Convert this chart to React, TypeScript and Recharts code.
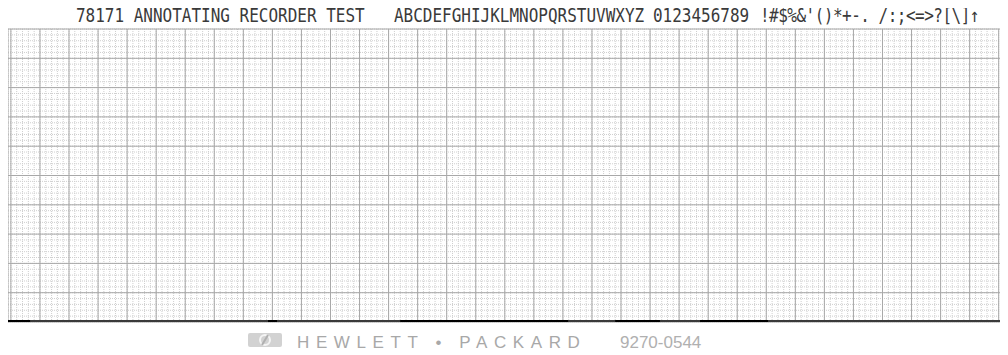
import React from 'react';
import { LineChart, Line, XAxis, YAxis, CartesianGrid } from 'recharts';

// header printed by the recorder, split where the print head left gaps
const headerText = [
  '78171 ANNOTATING RECORDER TEST',
  'ABCDEFGHIJKLMNOPQRSTUVWXYZ',
  '0123456789',
  "!#$%&'()*+-. /:;<=>?[\\]\u2191",
];
const headerX = [68, 386, 645, 752];

const footerBrand = 'HEWLETT \u2022 PACKARD';
const footerPart = '9270-0544';

// pen trace along the zero line (x in major divisions)
const baseTrace = [
  { x: -0.1, y: 0 },
  { x: 34.32, y: 0 },
];
const darkTrace = [
  { x: -0.1, y: 0 },
  { x: 0.66, y: 0 },
  { x: 0.7, y: null },
  { x: 8.85, y: 0 },
  { x: 9.16, y: 0 },
  { x: 9.2, y: null },
  { x: 13.4, y: 0 },
  { x: 19.18, y: 0 },
  { x: 19.2, y: null },
  { x: 20.8, y: 0 },
  { x: 22.34, y: 0 },
  { x: 22.4, y: null },
  { x: 23.72, y: 0 },
  { x: 26.06, y: 0 },
];

const xDomain = [-0.1, 34.32];
const yDomain = [0, 10];

const majorX: number[] = [];
const minorX: number[] = [];
for (let i = 0; i <= 34; i++) majorX.push(i);
for (let i = 0; i <= 171; i++) minorX.push(i / 5);
const majorY: number[] = [];
const minorY: number[] = [];
for (let i = 0; i <= 10; i++) majorY.push(i);
for (let i = 0; i <= 50; i++) minorY.push(i / 5);

const App = () => {
  return (
    <div style={{ position: 'relative', width: 1000, height: 347 }}>
      <LineChart
        width={1000}
        height={347}
        margin={{ top: 21, right: 0, bottom: 33, left: 0 }}
      >
        <XAxis xAxisId="minor" type="number" dataKey="x" domain={xDomain} ticks={minorX} interval={0} allowDataOverflow hide />
        <XAxis xAxisId="major" type="number" dataKey="x" domain={xDomain} ticks={majorX} interval={0} allowDataOverflow hide />
        <YAxis yAxisId="minor" type="number" domain={yDomain} ticks={minorY} interval={0} allowDataOverflow hide />
        <YAxis yAxisId="major" type="number" domain={yDomain} ticks={majorY} interval={0} allowDataOverflow hide />
        <CartesianGrid xAxisId="minor" yAxisId="minor" stroke="#cfcfcf" strokeDasharray="1 1" />
        <CartesianGrid xAxisId="major" yAxisId="major" stroke="#a8a8a8" />
        <Line
          xAxisId="major"
          yAxisId="major"
          data={baseTrace}
          dataKey="y"
          type="linear"
          stroke="#3a3a3a"
          strokeWidth={4}
          dot={false}
          isAnimationActive={false}
        />
        <Line
          xAxisId="major"
          yAxisId="major"
          data={darkTrace}
          dataKey="y"
          type="linear"
          stroke="#000"
          strokeWidth={4}
          dot={false}
          connectNulls={false}
          isAnimationActive={false}
        />
      </LineChart>
      <svg
        width={1000}
        height={355}
        style={{ position: 'absolute', left: 0, top: -8, pointerEvents: 'none' }}
      >
        <g transform="scale(1, 1.2)">
          {headerText.map((t, i) => (
            <text
              key={i}
              x={headerX[i]}
              y={18.5}
              fontFamily="DejaVu Sans Mono"
              fontSize={16}
              letterSpacing={i === 3 ? -0.5 : 0}
              fill="#3a3a3a"
            >
              {t}
            </text>
          ))}
        </g>
        <g fill="none" strokeWidth={2}>
          <rect x={240} y={333} width={34} height={14} rx={2} fill="#d2d2d2" />
          <circle cx={257} cy={340} r={5} stroke="#f4f4f4" />
          <line x1={254} y1={345} x2={260} y2={335} stroke="#b0b0b0" />
        </g>
        <text
          x={289}
          y={348}
          fontFamily="Liberation Sans"
          fontSize={17}
          letterSpacing={6.6}
          fill="#a8a8a8"
        >
          {footerBrand}
        </text>
        <text
          x={612}
          y={348}
          fontFamily="Liberation Sans"
          fontSize={17}
          fill="#b0b0b0"
        >
          {footerPart}
        </text>
      </svg>
    </div>
  );
};

export default App;
